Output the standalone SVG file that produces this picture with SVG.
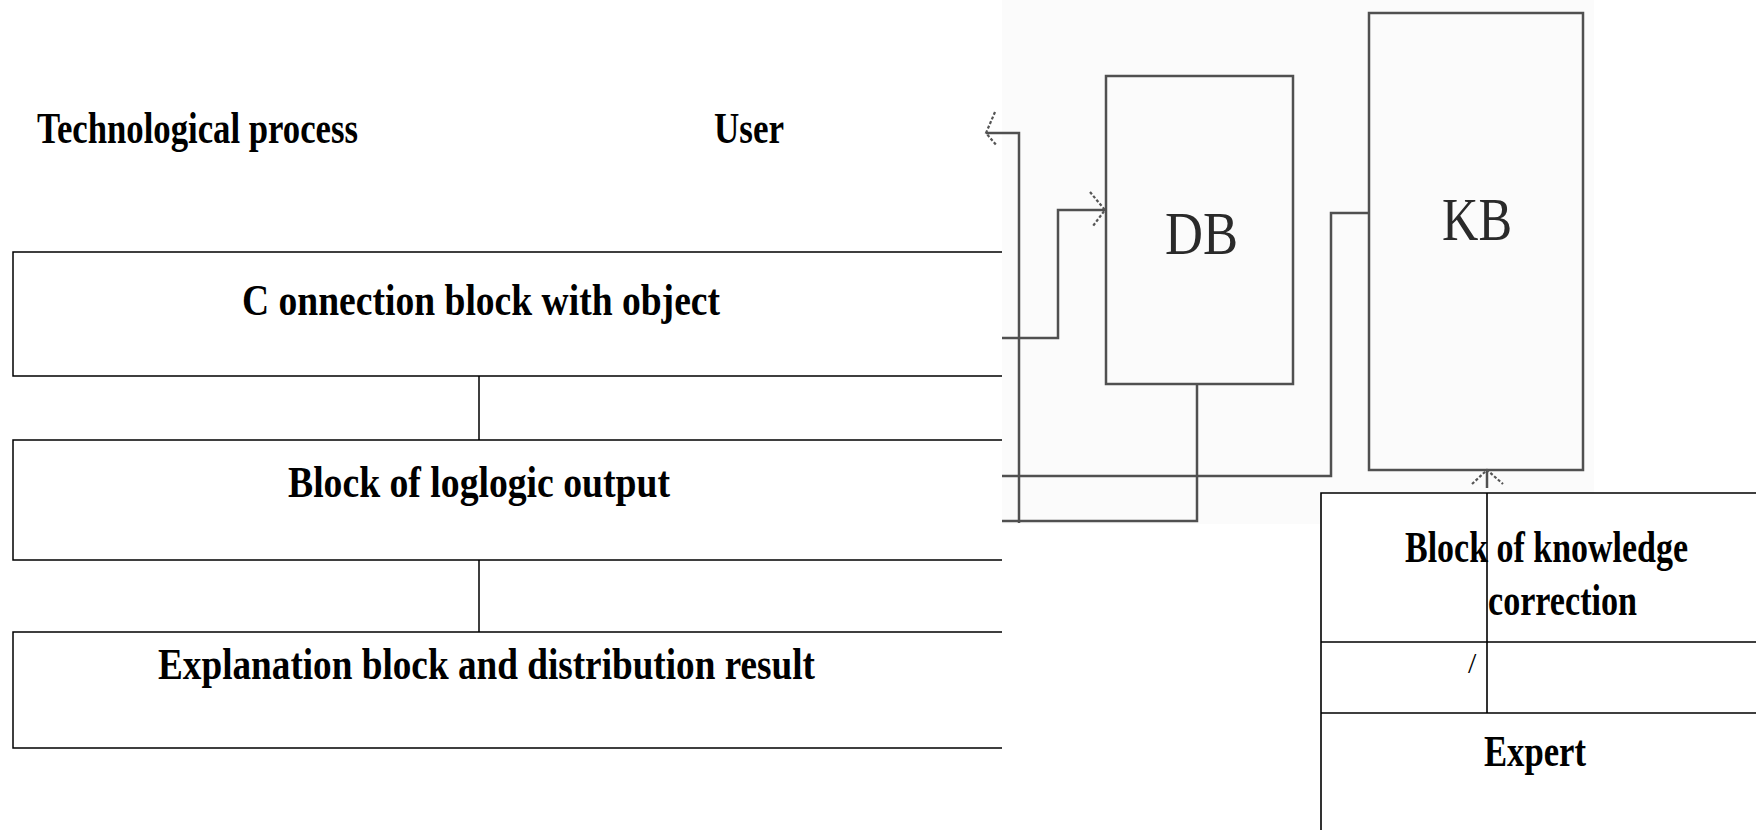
<svg xmlns="http://www.w3.org/2000/svg" width="1756" height="830" viewBox="0 0 1756 830">
<style>
.bt{font-family:"Liberation Serif","Times New Roman",serif;font-weight:bold;font-size:44px;fill:#000;}
.st{font-family:"Liberation Serif","Times New Roman",serif;font-size:62px;fill:#2a2a2a;}
.box{fill:none;stroke:#000;stroke-width:1.5;}
.sc{fill:none;stroke:#505050;stroke-width:2.5;}
.barb{fill:none;stroke:#555;stroke-width:2.2;stroke-dasharray:3 2;}
.tl{fill:none;stroke:#000;stroke-width:1.6;}
</style>
<rect x="0" y="0" width="1756" height="830" fill="#fff"/>
<rect x="1002" y="0" width="592" height="524" fill="#fbfbfb"/>

<g id="title-tech"><text class="bt" x="37" y="143" textLength="321" lengthAdjust="spacingAndGlyphs">Technological process</text></g>
<g id="title-user"><text class="bt" x="714" y="143" textLength="70" lengthAdjust="spacingAndGlyphs">User</text></g>

<g id="node-connection">
<path class="box" d="M1002,252 H13 V376 H1002"/>
<text class="bt" x="242" y="315" textLength="478" lengthAdjust="spacingAndGlyphs">C onnection block with object</text>
</g>
<g id="node-logic">
<path class="box" d="M1002,440 H13 V560 H1002"/>
<text class="bt" x="288" y="497" textLength="382" lengthAdjust="spacingAndGlyphs">Block of loglogic output</text>
</g>
<g id="node-explanation">
<path class="box" d="M1002,632 H13 V748 H1002"/>
<text class="bt" x="158" y="679" textLength="657" lengthAdjust="spacingAndGlyphs">Explanation block and distribution result</text>
</g>

<g id="node-db">
<rect class="sc" x="1106" y="76" width="187" height="308"/>
<text class="st" x="1165" y="254" textLength="73" lengthAdjust="spacingAndGlyphs">DB</text>
</g>
<g id="node-kb">
<rect class="sc" x="1369" y="13" width="214" height="457"/>
<text class="st" x="1442" y="240" textLength="70" lengthAdjust="spacingAndGlyphs">KB</text>
</g>

<g id="node-correction">
<rect x="1321" y="493" width="440" height="340" fill="#fff" stroke="none"/>
<path class="tl" d="M1756,493 H1321 V830 M1321,642 H1756 M1321,713 H1756 M1487,493 V713"/>
<text class="bt" x="1405" y="562" textLength="283" lengthAdjust="spacingAndGlyphs">Block of knowledge</text>
<text class="bt" x="1488" y="615" textLength="149" lengthAdjust="spacingAndGlyphs">correction</text>
<text x="1468" y="673" font-family="Liberation Serif, serif" font-size="30" fill="#000">/</text>
</g>
<g id="node-expert">
<text class="bt" x="1484" y="766" textLength="102" lengthAdjust="spacingAndGlyphs">Expert</text>
</g>

<g id="connectors">
<path class="box" d="M479,376 V440 M479,560 V632"/>
<path class="sc" d="M986,133 H1019 V523"/>
<path class="barb" d="M995,112 L986,133 L997,146"/>
<path class="sc" d="M1002,338 H1058 V210 H1105"/>
<path class="barb" d="M1090,192 L1105,210 L1093,226"/>
<path class="sc" d="M1002,476 H1331 V213 H1369"/>
<path class="sc" d="M1002,521 H1197 V384"/>
<path class="sc" d="M1487,470 V488"/>
<path class="barb" d="M1472,484 L1487,470 L1503,484"/>
</g>
</svg>
